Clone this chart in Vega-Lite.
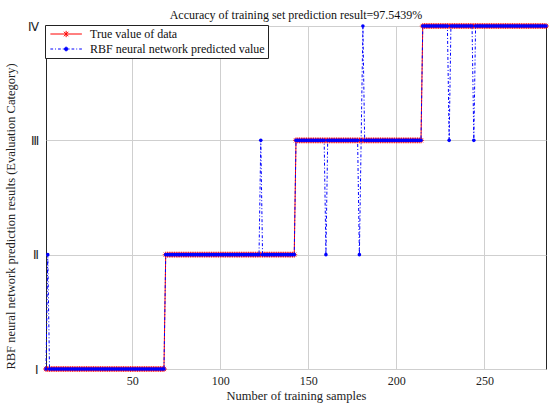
{
  "$schema": "https://vega.github.io/schema/vega-lite/v6.json",
  "width": 500,
  "height": 343,
  "autosize": "none",
  "padding": {"left": 46, "top": 26, "right": 3, "bottom": 38},
  "background": "white",
  "title": {"text": "Accuracy of training set prediction result=97.5439%", "font": "Liberation Serif", "fontSize": 12, "fontWeight": "normal", "color": "#111", "anchor": "middle", "offset": -2},
  "config": {
    "font": "Liberation Serif",
    "view": {"stroke": "#262626", "strokeWidth": 1},
    "legend": {"labelFont": "Liberation Serif"},
    "axis": {"labelFont": "Liberation Serif", "titleFont": "Liberation Serif", "labelFontSize": 12, "titleFontSize": 12.5, "titleFontWeight": "normal", "labelColor": "#222", "titleColor": "#222", "grid": true, "gridColor": "#cfcfcf", "gridWidth": 1, "ticks": false, "domain": false}
  },
  "data": {"values": [
    {"x":1,"t":1,"p":1},{"x":2,"t":1,"p":2},{"x":3,"t":1,"p":1},{"x":4,"t":1,"p":1},{"x":5,"t":1,"p":1},{"x":6,"t":1,"p":1},{"x":7,"t":1,"p":1},{"x":8,"t":1,"p":1},{"x":9,"t":1,"p":1},{"x":10,"t":1,"p":1},
    {"x":11,"t":1,"p":1},{"x":12,"t":1,"p":1},{"x":13,"t":1,"p":1},{"x":14,"t":1,"p":1},{"x":15,"t":1,"p":1},{"x":16,"t":1,"p":1},{"x":17,"t":1,"p":1},{"x":18,"t":1,"p":1},{"x":19,"t":1,"p":1},{"x":20,"t":1,"p":1},
    {"x":21,"t":1,"p":1},{"x":22,"t":1,"p":1},{"x":23,"t":1,"p":1},{"x":24,"t":1,"p":1},{"x":25,"t":1,"p":1},{"x":26,"t":1,"p":1},{"x":27,"t":1,"p":1},{"x":28,"t":1,"p":1},{"x":29,"t":1,"p":1},{"x":30,"t":1,"p":1},
    {"x":31,"t":1,"p":1},{"x":32,"t":1,"p":1},{"x":33,"t":1,"p":1},{"x":34,"t":1,"p":1},{"x":35,"t":1,"p":1},{"x":36,"t":1,"p":1},{"x":37,"t":1,"p":1},{"x":38,"t":1,"p":1},{"x":39,"t":1,"p":1},{"x":40,"t":1,"p":1},
    {"x":41,"t":1,"p":1},{"x":42,"t":1,"p":1},{"x":43,"t":1,"p":1},{"x":44,"t":1,"p":1},{"x":45,"t":1,"p":1},{"x":46,"t":1,"p":1},{"x":47,"t":1,"p":1},{"x":48,"t":1,"p":1},{"x":49,"t":1,"p":1},{"x":50,"t":1,"p":1},
    {"x":51,"t":1,"p":1},{"x":52,"t":1,"p":1},{"x":53,"t":1,"p":1},{"x":54,"t":1,"p":1},{"x":55,"t":1,"p":1},{"x":56,"t":1,"p":1},{"x":57,"t":1,"p":1},{"x":58,"t":1,"p":1},{"x":59,"t":1,"p":1},{"x":60,"t":1,"p":1},
    {"x":61,"t":1,"p":1},{"x":62,"t":1,"p":1},{"x":63,"t":1,"p":1},{"x":64,"t":1,"p":1},{"x":65,"t":1,"p":1},{"x":66,"t":1,"p":1},{"x":67,"t":1,"p":1},{"x":68,"t":1,"p":1},{"x":69,"t":2,"p":2},{"x":70,"t":2,"p":2},
    {"x":71,"t":2,"p":2},{"x":72,"t":2,"p":2},{"x":73,"t":2,"p":2},{"x":74,"t":2,"p":2},{"x":75,"t":2,"p":2},{"x":76,"t":2,"p":2},{"x":77,"t":2,"p":2},{"x":78,"t":2,"p":2},{"x":79,"t":2,"p":2},{"x":80,"t":2,"p":2},
    {"x":81,"t":2,"p":2},{"x":82,"t":2,"p":2},{"x":83,"t":2,"p":2},{"x":84,"t":2,"p":2},{"x":85,"t":2,"p":2},{"x":86,"t":2,"p":2},{"x":87,"t":2,"p":2},{"x":88,"t":2,"p":2},{"x":89,"t":2,"p":2},{"x":90,"t":2,"p":2},
    {"x":91,"t":2,"p":2},{"x":92,"t":2,"p":2},{"x":93,"t":2,"p":2},{"x":94,"t":2,"p":2},{"x":95,"t":2,"p":2},{"x":96,"t":2,"p":2},{"x":97,"t":2,"p":2},{"x":98,"t":2,"p":2},{"x":99,"t":2,"p":2},{"x":100,"t":2,"p":2},
    {"x":101,"t":2,"p":2},{"x":102,"t":2,"p":2},{"x":103,"t":2,"p":2},{"x":104,"t":2,"p":2},{"x":105,"t":2,"p":2},{"x":106,"t":2,"p":2},{"x":107,"t":2,"p":2},{"x":108,"t":2,"p":2},{"x":109,"t":2,"p":2},{"x":110,"t":2,"p":2},
    {"x":111,"t":2,"p":2},{"x":112,"t":2,"p":2},{"x":113,"t":2,"p":2},{"x":114,"t":2,"p":2},{"x":115,"t":2,"p":2},{"x":116,"t":2,"p":2},{"x":117,"t":2,"p":2},{"x":118,"t":2,"p":2},{"x":119,"t":2,"p":2},{"x":120,"t":2,"p":2},
    {"x":121,"t":2,"p":2},{"x":122,"t":2,"p":2},{"x":123,"t":2,"p":3},{"x":124,"t":2,"p":2},{"x":125,"t":2,"p":2},{"x":126,"t":2,"p":2},{"x":127,"t":2,"p":2},{"x":128,"t":2,"p":2},{"x":129,"t":2,"p":2},{"x":130,"t":2,"p":2},
    {"x":131,"t":2,"p":2},{"x":132,"t":2,"p":2},{"x":133,"t":2,"p":2},{"x":134,"t":2,"p":2},{"x":135,"t":2,"p":2},{"x":136,"t":2,"p":2},{"x":137,"t":2,"p":2},{"x":138,"t":2,"p":2},{"x":139,"t":2,"p":2},{"x":140,"t":2,"p":2},
    {"x":141,"t":2,"p":2},{"x":142,"t":2,"p":2},{"x":143,"t":3,"p":3},{"x":144,"t":3,"p":3},{"x":145,"t":3,"p":3},{"x":146,"t":3,"p":3},{"x":147,"t":3,"p":3},{"x":148,"t":3,"p":3},{"x":149,"t":3,"p":3},{"x":150,"t":3,"p":3},
    {"x":151,"t":3,"p":3},{"x":152,"t":3,"p":3},{"x":153,"t":3,"p":3},{"x":154,"t":3,"p":3},{"x":155,"t":3,"p":3},{"x":156,"t":3,"p":3},{"x":157,"t":3,"p":3},{"x":158,"t":3,"p":3},{"x":159,"t":3,"p":3},{"x":160,"t":3,"p":2},
    {"x":161,"t":3,"p":3},{"x":162,"t":3,"p":3},{"x":163,"t":3,"p":3},{"x":164,"t":3,"p":3},{"x":165,"t":3,"p":3},{"x":166,"t":3,"p":3},{"x":167,"t":3,"p":3},{"x":168,"t":3,"p":3},{"x":169,"t":3,"p":3},{"x":170,"t":3,"p":3},
    {"x":171,"t":3,"p":3},{"x":172,"t":3,"p":3},{"x":173,"t":3,"p":3},{"x":174,"t":3,"p":3},{"x":175,"t":3,"p":3},{"x":176,"t":3,"p":3},{"x":177,"t":3,"p":3},{"x":178,"t":3,"p":3},{"x":179,"t":3,"p":2},{"x":180,"t":3,"p":3},
    {"x":181,"t":3,"p":4},{"x":182,"t":3,"p":3},{"x":183,"t":3,"p":3},{"x":184,"t":3,"p":3},{"x":185,"t":3,"p":3},{"x":186,"t":3,"p":3},{"x":187,"t":3,"p":3},{"x":188,"t":3,"p":3},{"x":189,"t":3,"p":3},{"x":190,"t":3,"p":3},
    {"x":191,"t":3,"p":3},{"x":192,"t":3,"p":3},{"x":193,"t":3,"p":3},{"x":194,"t":3,"p":3},{"x":195,"t":3,"p":3},{"x":196,"t":3,"p":3},{"x":197,"t":3,"p":3},{"x":198,"t":3,"p":3},{"x":199,"t":3,"p":3},{"x":200,"t":3,"p":3},
    {"x":201,"t":3,"p":3},{"x":202,"t":3,"p":3},{"x":203,"t":3,"p":3},{"x":204,"t":3,"p":3},{"x":205,"t":3,"p":3},{"x":206,"t":3,"p":3},{"x":207,"t":3,"p":3},{"x":208,"t":3,"p":3},{"x":209,"t":3,"p":3},{"x":210,"t":3,"p":3},
    {"x":211,"t":3,"p":3},{"x":212,"t":3,"p":3},{"x":213,"t":3,"p":3},{"x":214,"t":3,"p":3},{"x":215,"t":4,"p":4},{"x":216,"t":4,"p":4},{"x":217,"t":4,"p":4},{"x":218,"t":4,"p":4},{"x":219,"t":4,"p":4},{"x":220,"t":4,"p":4},
    {"x":221,"t":4,"p":4},{"x":222,"t":4,"p":4},{"x":223,"t":4,"p":4},{"x":224,"t":4,"p":4},{"x":225,"t":4,"p":4},{"x":226,"t":4,"p":4},{"x":227,"t":4,"p":4},{"x":228,"t":4,"p":4},{"x":229,"t":4,"p":4},{"x":230,"t":4,"p":3},
    {"x":231,"t":4,"p":4},{"x":232,"t":4,"p":4},{"x":233,"t":4,"p":4},{"x":234,"t":4,"p":4},{"x":235,"t":4,"p":4},{"x":236,"t":4,"p":4},{"x":237,"t":4,"p":4},{"x":238,"t":4,"p":4},{"x":239,"t":4,"p":4},{"x":240,"t":4,"p":4},
    {"x":241,"t":4,"p":4},{"x":242,"t":4,"p":4},{"x":243,"t":4,"p":4},{"x":244,"t":4,"p":3},{"x":245,"t":4,"p":4},{"x":246,"t":4,"p":4},{"x":247,"t":4,"p":4},{"x":248,"t":4,"p":4},{"x":249,"t":4,"p":4},{"x":250,"t":4,"p":4},
    {"x":251,"t":4,"p":4},{"x":252,"t":4,"p":4},{"x":253,"t":4,"p":4},{"x":254,"t":4,"p":4},{"x":255,"t":4,"p":4},{"x":256,"t":4,"p":4},{"x":257,"t":4,"p":4},{"x":258,"t":4,"p":4},{"x":259,"t":4,"p":4},{"x":260,"t":4,"p":4},
    {"x":261,"t":4,"p":4},{"x":262,"t":4,"p":4},{"x":263,"t":4,"p":4},{"x":264,"t":4,"p":4},{"x":265,"t":4,"p":4},{"x":266,"t":4,"p":4},{"x":267,"t":4,"p":4},{"x":268,"t":4,"p":4},{"x":269,"t":4,"p":4},{"x":270,"t":4,"p":4},
    {"x":271,"t":4,"p":4},{"x":272,"t":4,"p":4},{"x":273,"t":4,"p":4},{"x":274,"t":4,"p":4},{"x":275,"t":4,"p":4},{"x":276,"t":4,"p":4},{"x":277,"t":4,"p":4},{"x":278,"t":4,"p":4},{"x":279,"t":4,"p":4},{"x":280,"t":4,"p":4},
    {"x":281,"t":4,"p":4},{"x":282,"t":4,"p":4},{"x":283,"t":4,"p":4},{"x":284,"t":4,"p":4},{"x":285,"t":4,"p":4}
  ]},
  "encoding": {
    "x": {"field": "x", "type": "quantitative", "scale": {"domain": [1, 285], "nice": false, "zero": false},
      "axis": {"values": [50, 100, 150, 200, 250], "title": "Number of training samples", "labelPadding": 6, "titlePadding": 3}}
  },
  "layer": [
    {
      "mark": {"type": "line", "strokeWidth": 1, "interpolate": "linear"},
      "encoding": {
        "y": {"field": "t", "type": "quantitative", "scale": {"domain": [1, 4], "nice": false, "zero": false},
          "axis": {"values": [1, 2, 3, 4], "labelExpr": "['', 'Ⅰ', 'Ⅱ', 'Ⅲ', 'Ⅳ'][datum.value]", "title": "RBF neural network prediction results (Evaluation Category)", "labelPadding": 8, "titlePadding": 10, "titleY": 190}},
        "color": {"datum": "True value of data", "type": "nominal",
          "scale": {"domain": ["True value of data", "RBF neural network predicted value"], "range": ["#ff0000", "#0000ff"]},
          "legend": {"title": null, "orient": "none", "legendX": -1, "legendY": -1, "direction": "vertical",
            "strokeColor": "#222", "fillColor": "white", "padding": 3, "symbolSize": 81, "symbolStrokeWidth": 1,
            "labelFont": "Liberation Serif", "labelFontSize": 12, "labelColor": "#111", "labelOffset": 30, "labelLimit": 400, "rowPadding": 3,
            "encode": {"symbols": {"update": {
              "shape": {"signal": "datum.value == 'True value of data' ? 'M-0.8,0H6.2M2.7,-0.7V0.7M2.2,-0.5L3.2,0.5M2.2,0.5L3.2,-0.5' : 'M-0.8,0H-0.2M0.25,0H0.45M0.9,0H1.5M1.95,0H2.15M3.25,0H3.45M3.9,0H4.5M4.95,0H5.15M5.6,0H6.2M2.3,0A0.4,0.4 0 1,0 3.1,0A0.4,0.4 0 1,0 2.3,0Z'"},
              "fill": {"signal": "datum.value == 'True value of data' ? 'transparent' : '#0000ff'"},
              "stroke": {"signal": "datum.value == 'True value of data' ? '#ff0000' : '#0000ff'"},
              "strokeWidth": {"value": 1},
              "opacity": {"value": 1}
            }}}
          }}
      }
    },
    {
      "mark": {"type": "point", "shape": "M-1,0H1M0,-1V1M-0.7,-0.7L0.7,0.7M-0.7,0.7L0.7,-0.7", "filled": false, "size": 36, "strokeWidth": 0.8, "opacity": 1},
      "encoding": {
        "y": {"field": "t", "type": "quantitative"},
        "color": {"datum": "True value of data", "type": "nominal"}
      }
    },
    {
      "mark": {"type": "line", "strokeWidth": 1, "strokeDash": [3, 2, 1, 2]},
      "encoding": {
        "y": {"field": "p", "type": "quantitative"},
        "color": {"datum": "RBF neural network predicted value", "type": "nominal"}
      }
    },
    {
      "mark": {"type": "point", "shape": "circle", "filled": true, "size": 13, "opacity": 1},
      "encoding": {
        "y": {"field": "p", "type": "quantitative"},
        "color": {"datum": "RBF neural network predicted value", "type": "nominal"}
      }
    }
  ]
}
